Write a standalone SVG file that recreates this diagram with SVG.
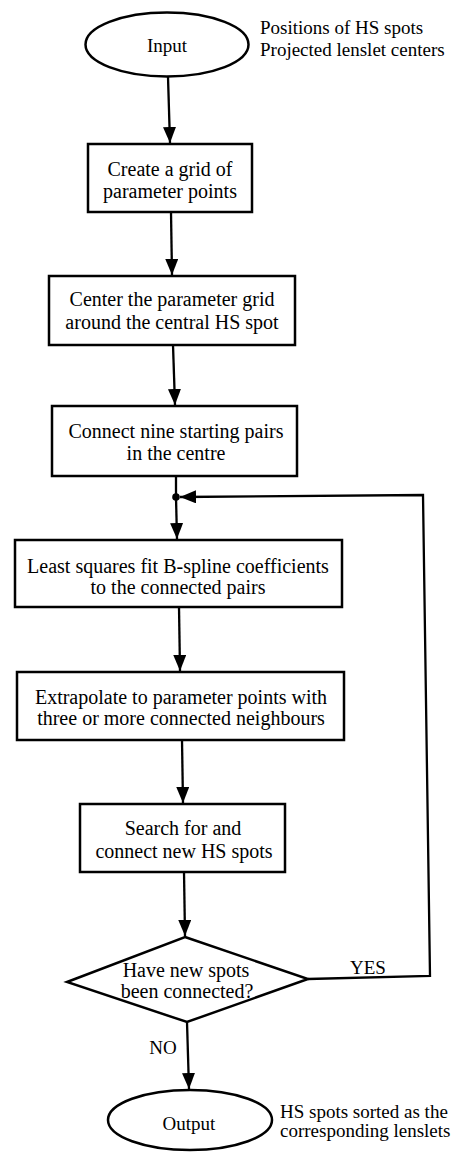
<svg xmlns="http://www.w3.org/2000/svg" width="471" height="1152" viewBox="0 0 471 1152">
<style>
.s{fill:#fff;stroke:#000;stroke-width:2.5}
.c{fill:none;stroke:#000;stroke-width:2.3}
text{font-family:"Liberation Serif","Times New Roman",serif;font-size:20px;fill:#000}
.n{font-size:19px}
.m{text-anchor:middle}
</style>
<defs>
<marker id="ah" markerUnits="userSpaceOnUse" markerWidth="17" markerHeight="14" refX="16" refY="6.5" orient="auto">
<path d="M0,0 L16,6.5 L0,13 Z" fill="#000"/>
</marker>
</defs>
<rect width="471" height="1152" fill="#fff"/>
<g id="connectors">
<line class="c" x1="168" y1="77" x2="170" y2="143" marker-end="url(#ah)"/>
<line class="c" x1="171" y1="212" x2="172" y2="275" marker-end="url(#ah)"/>
<line class="c" x1="173" y1="345" x2="175" y2="405" marker-end="url(#ah)"/>
<line class="c" x1="176" y1="476" x2="176" y2="497"/>
<line class="c" x1="176" y1="497" x2="177" y2="539" marker-end="url(#ah)"/>
<line class="c" x1="179" y1="607" x2="180" y2="671" marker-end="url(#ah)"/>
<line class="c" x1="182" y1="740" x2="183" y2="803" marker-end="url(#ah)"/>
<line class="c" x1="184" y1="872" x2="185" y2="936" marker-end="url(#ah)"/>
<line class="c" x1="187" y1="1022" x2="189" y2="1089" marker-end="url(#ah)"/>
<polyline class="c" points="308,979 430,976 423,495 180,497" marker-end="url(#ah)"/>
<circle cx="176" cy="497" r="3.8" fill="#000"/>
<text x="368" y="974" class="m n">YES</text>
<text x="163" y="1054" class="m n">NO</text>
</g>
<g id="input">
<ellipse class="s" cx="167" cy="44.5" rx="81.5" ry="32"/>
<text x="167" y="52" class="m n">Input</text>
</g>
<g id="input-note">
<text x="260" y="34" class="n">Positions of HS spots</text>
<text x="260" y="56" class="n">Projected lenslet centers</text>
</g>
<g id="create-grid">
<rect class="s" x="88" y="144" width="164" height="68"/>
<text x="170" y="176" class="m">Create a grid of</text>
<text x="170" y="198" class="m">parameter points</text>
</g>
<g id="center-grid">
<rect class="s" x="49" y="276" width="246" height="69"/>
<text x="172" y="306" class="m">Center the parameter grid</text>
<text x="172" y="329" class="m">around the central HS spot</text>
</g>
<g id="connect-nine">
<rect class="s" x="52" y="406" width="245" height="70"/>
<text x="176" y="438" class="m">Connect nine starting pairs</text>
<text x="176" y="460" class="m">in the centre</text>
</g>
<g id="least-squares">
<rect class="s" x="15" y="540" width="327" height="67"/>
<text x="178" y="573" class="m">Least squares fit B-spline coefficients</text>
<text x="178" y="594" class="m">to the connected pairs</text>
</g>
<g id="extrapolate">
<rect class="s" x="17" y="672" width="327" height="68"/>
<text x="181" y="704" class="m">Extrapolate to parameter points with</text>
<text x="181" y="725" class="m">three or more connected neighbours</text>
</g>
<g id="search">
<rect class="s" x="80" y="804" width="205" height="68"/>
<text x="183" y="835" class="m">Search for and</text>
<text x="184" y="858" class="m">connect new HS spots</text>
</g>
<g id="decision">
<polygon class="s" points="185,937 308,979 187,1022 67,982"/>
<text x="186" y="977" class="m">Have new spots</text>
<text x="187" y="998" class="m">been connected?</text>
</g>
<g id="output">
<ellipse class="s" cx="190" cy="1120" rx="82" ry="30"/>
<text x="189" y="1130" class="m n">Output</text>
</g>
<g id="output-note">
<text x="280" y="1118" class="n">HS spots sorted as the</text>
<text x="280" y="1137" class="n">corresponding lenslets</text>
</g>
</svg>
